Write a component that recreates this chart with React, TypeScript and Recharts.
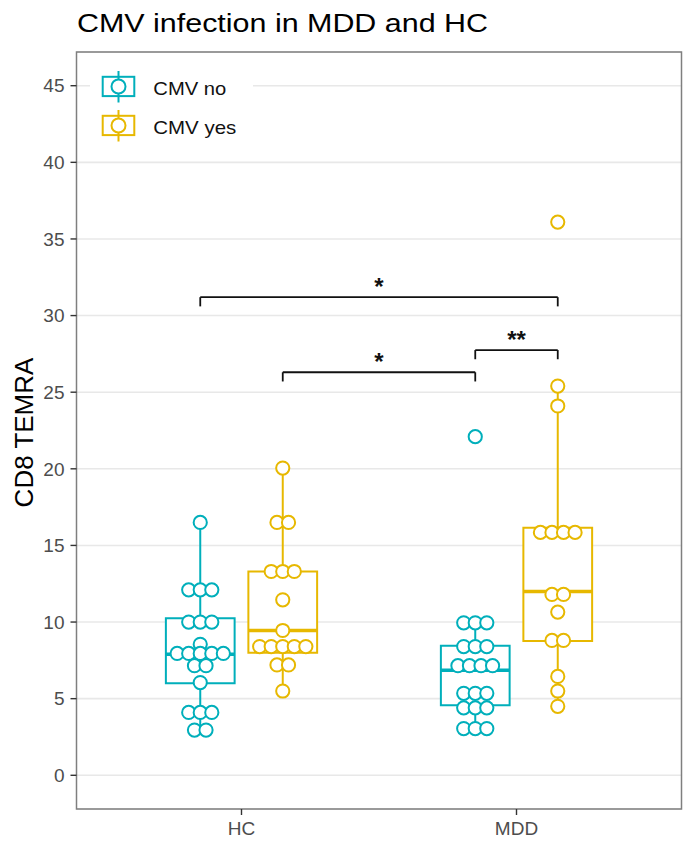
import React from 'react';
import {
  ComposedChart,
  Scatter,
  XAxis,
  YAxis,
  CartesianGrid,
  ReferenceArea,
  ReferenceLine,
  Legend,
} from 'recharts';

const categories = ['HC', 'MDD'];
const groups = ['CMV no', 'CMV yes'];
const colors = ['#00AFBB', '#E7B800'];
const yTicks = [0, 5, 10, 15, 20, 25, 30, 35, 40, 45];

// one value per dot
const hcNo = [16.5, 12.1, 12.1, 12.1, 10, 10, 10, 8.55, 7.95, 7.95, 7.95, 7.95, 7.95, 7.15, 7.15, 6.05, 4.1, 4.1, 4.1, 2.95, 2.95];
const hcYes = [20.05, 16.5, 16.5, 13.3, 13.3, 13.3, 11.45, 9.45, 8.4, 8.4, 8.4, 8.4, 8.4, 7.2, 7.2, 5.5];
const mddNo = [22.1, 9.95, 9.95, 9.95, 8.4, 8.4, 8.4, 7.15, 7.15, 7.15, 7.15, 5.35, 5.35, 5.35, 4.4, 4.4, 4.4, 3.05, 3.05, 3.05];
const mddYes = [36.1, 25.4, 24.1, 15.85, 15.85, 15.85, 15.85, 11.8, 11.8, 10.65, 8.8, 8.8, 6.45, 5.5, 4.5];

// whisker low, Q1, median, Q3, whisker high
const hcNoBox = [2.95, 6.0, 7.9, 10.25, 16.5];
const hcYesBox = [5.5, 8.0, 9.45, 13.3, 20.05];
const mddNoBox = [3.05, 4.57, 6.86, 8.45, 9.95];
const mddYesBox = [4.5, 8.77, 12.0, 16.15, 25.4];

// significance brackets: [category, group] pairs, bracket height, label
const bracketFrom = [[0, 0], [1, 0], [0, 1]];
const bracketTo = [[1, 1], [1, 1], [1, 0]];
const bracketY = [31.2, 27.75, 26.3];
const bracketLabels = ['*', '**', '*'];

const dots = [
  [hcNo, mddNo],
  [hcYes, mddYes],
];
const boxes = [
  [hcNoBox, mddNoBox],
  [hcYesBox, mddYesBox],
];

const DODGE = [-0.15, 0.15];
const HALF_BOX = 0.125;
const DOT_STEP = 0.042;
const TIP = 0.6;
const FONT = '"Liberation Sans", Arial, Helvetica, sans-serif';

const xPos = (cat: number, grp: number) => cat + 1 + DODGE[grp];

// centre each row of equal values around the box centre, like a dotplot
const stackDots = (grp: number) => {
  const out: { x: number; y: number }[] = [];
  dots[grp].forEach((vals, cat) => {
    const rows = new Map<number, number>();
    vals.forEach((v) => rows.set(v, (rows.get(v) || 0) + 1));
    rows.forEach((n, v) => {
      for (let i = 0; i < n; i++) {
        out.push({ x: xPos(cat, grp) + (i - (n - 1) / 2) * DOT_STEP, y: v });
      }
    });
  });
  return out;
};

const sigLabels = bracketLabels.map((label, i) => ({
  x: (xPos(bracketFrom[i][0], bracketFrom[i][1]) + xPos(bracketTo[i][0], bracketTo[i][1])) / 2,
  y: bracketY[i] + 1.0,
  label,
}));

const dotShape = (color: string) => (props: any) => (
  <circle cx={props.cx} cy={props.cy} r={6.6} fill="#fff" stroke={color} strokeWidth={2} />
);

const labelShape = (props: any) => (
  <text
    x={props.cx}
    y={props.cy + 13}
    textAnchor="middle"
    fontSize={24}
    fontWeight="bold"
    fill="#111"
    fontFamily={FONT}
  >
    {props.payload.label}
  </text>
);

const LegendBox = () => (
  <svg width={163} height={80}>
    {groups.map((g, i) => {
      const cy = 20.5 + i * 39;
      return (
        <g key={g}>
          <line x1={28.5} x2={28.5} y1={cy - 15.5} y2={cy + 16} stroke={colors[i]} strokeWidth={2} />
          <rect x={12.7} y={cy - 9.7} width={31.6} height={19.3} fill="#fff" stroke={colors[i]} strokeWidth={2} />
          <line x1={28.5} x2={28.5} y1={cy - 9.7} y2={cy + 9.7} stroke={colors[i]} strokeWidth={2} />
          <circle cx={28.5} cy={cy} r={7} fill="#fff" stroke={colors[i]} strokeWidth={2} />
          <text
            x={63.3}
            y={cy + 8.5}
            fontSize={19}
            textLength={i === 0 ? 73 : 83}
            lengthAdjust="spacingAndGlyphs"
            fill="#111"
            fontFamily={FONT}
          >
            {g}
          </text>
        </g>
      );
    })}
  </svg>
);

const App = () => {
  return (
    <div style={{ position: 'absolute', left: 0, top: 0, width: 688, height: 852, background: '#fff', fontFamily: FONT }}>
      <svg width={688} height={50} style={{ position: 'absolute', left: 0, top: 0 }}>
        <text x={77} y={32} fontSize={26} textLength={411} lengthAdjust="spacingAndGlyphs" fill="#000" fontFamily={FONT}>
          CMV infection in MDD and HC
        </text>
      </svg>
      <div style={{ position: 'absolute', left: 0, top: 0 }}>
        <ComposedChart width={688} height={852} margin={{ top: 52, right: 6.5, bottom: 13, left: 0 }}>
          <CartesianGrid horizontal vertical={false} stroke="#E8E8E8" strokeWidth={1.6} />
          <XAxis
            type="number"
            dataKey="x"
            domain={[0.4, 2.6]}
            ticks={[1, 2]}
            allowDataOverflow
            tickFormatter={(v: number) => categories[v - 1]}
            axisLine={false}
            tickSize={6}
            tickMargin={7}
            height={30}
            tickLine={{ stroke: '#333', strokeWidth: 1.4 }}
            tick={{ fill: '#4D4D4D', fontSize: 19, fontFamily: FONT }}
          />
          <YAxis
            type="number"
            dataKey="y"
            domain={[-2.2, 47.2]}
            ticks={yTicks}
            allowDataOverflow
            axisLine={false}
            width={76.5}
            tickSize={6}
            tickMargin={6}
            tickLine={{ stroke: '#333', strokeWidth: 1.4 }}
            tick={{ fill: '#4D4D4D', fontSize: 19, fontFamily: FONT }}
            label={{
              content: (p: any) => (
                <text
                  transform={`translate(33, ${p.viewBox.y + p.viewBox.height / 2 + 2}) rotate(-90)`}
                  textAnchor="middle"
                  fontSize={26}
                  fill="#000"
                  fontFamily={FONT}
                >
                  CD8 TEMRA
                </text>
              ),
            }}
          />
          {boxes.map((byCat, grp) =>
            byCat.map((b, cat) => {
              const xc = xPos(cat, grp);
              return (
                <React.Fragment key={`box-${grp}-${cat}`}>
                  <ReferenceLine segment={[{ x: xc, y: b[0] }, { x: xc, y: b[1] }]} stroke={colors[grp]} strokeWidth={2} />
                  <ReferenceLine segment={[{ x: xc, y: b[3] }, { x: xc, y: b[4] }]} stroke={colors[grp]} strokeWidth={2} />
                  <ReferenceArea
                    x1={xc - HALF_BOX}
                    x2={xc + HALF_BOX}
                    y1={b[1]}
                    y2={b[3]}
                    fill="#fff"
                    fillOpacity={1}
                    stroke={colors[grp]}
                    strokeWidth={2}
                  />
                  <ReferenceLine
                    segment={[{ x: xc - HALF_BOX, y: b[2] }, { x: xc + HALF_BOX, y: b[2] }]}
                    stroke={colors[grp]}
                    strokeWidth={3.5}
                  />
                </React.Fragment>
              );
            })
          )}
          {bracketLabels.map((_, i) => {
            const x1 = xPos(bracketFrom[i][0], bracketFrom[i][1]);
            const x2 = xPos(bracketTo[i][0], bracketTo[i][1]);
            const y = bracketY[i];
            return (
              <React.Fragment key={`br-${i}`}>
                <ReferenceLine segment={[{ x: x1, y }, { x: x2, y }]} stroke="#111" strokeWidth={1.8} />
                <ReferenceLine segment={[{ x: x1, y }, { x: x1, y: y - TIP }]} stroke="#111" strokeWidth={1.8} />
                <ReferenceLine segment={[{ x: x2, y }, { x: x2, y: y - TIP }]} stroke="#111" strokeWidth={1.8} />
              </React.Fragment>
            );
          })}
          {groups.map((g, grp) => (
            <Scatter key={g} name={g} data={stackDots(grp)} shape={dotShape(colors[grp])} isAnimationActive={false} />
          ))}
          <Scatter name="sig" data={sigLabels} shape={labelShape} legendType="none" isAnimationActive={false} />
          <ReferenceArea x1={0.4} x2={2.6} y1={-2.2} y2={47.2} fill="none" stroke="#7F7F7F" strokeWidth={1.5} />
          <Legend
            layout="horizontal"
            verticalAlign="middle"
            align="center"
            content={() => <LegendBox />}
            wrapperStyle={{ left: 90, top: 66, width: 163, height: 80, background: '#fff' }}
          />
        </ComposedChart>
      </div>
    </div>
  );
};

export default App;
